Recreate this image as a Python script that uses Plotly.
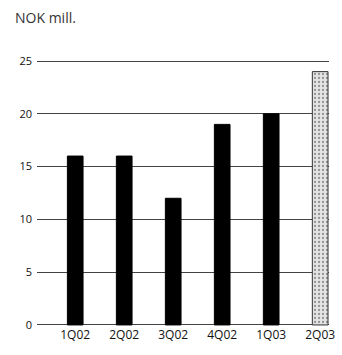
import plotly.graph_objects as go

# Quarterly result, NOK million
quarters = ["1Q02", "2Q02", "3Q02", "4Q02", "1Q03", "2Q03"]
values = [16, 16, 12, 19, 20, 24]
y_ticks = [0, 5, 10, 15, 20, 25]

# Past quarters in solid black, latest quarter shaded
fill_colors = ["#000000"] * 5 + ["#e4e4e4"]
line_colors = ["#000000"] * 5 + ["#333333"]
pattern_shapes = [""] * 5 + ["."]

fig = go.Figure(
    go.Bar(
        x=list(range(len(quarters))),
        y=values,
        width=0.32,
        marker=dict(
            color=fill_colors,
            line=dict(color=line_colors, width=1),
            pattern=dict(shape=pattern_shapes, fgcolor="#888888",
                         bgcolor="#f2f2f2", size=4, solidity=0.25),
        ),
        showlegend=False,
    )
)

fig.update_layout(
    width=342,
    height=355,
    margin=dict(l=37, r=7, t=60, b=29),
    paper_bgcolor="white",
    plot_bgcolor="white",
    font=dict(family="Open Sans, Liberation Sans, sans-serif", size=11, color="#111111"),
    annotations=[
        dict(text="NOK mill.", x=-24 / 298, y=1 + 43 / 266,
             xref="paper", yref="paper",
             showarrow=False, xanchor="left", yanchor="middle",
             font=dict(size=14, color="#333333")),
    ],
)

fig.update_xaxes(
    range=[-0.78, 5.18],
    tickmode="array",
    tickvals=list(range(len(quarters))),
    ticktext=quarters,
    showgrid=False,
    zeroline=False,
    showline=False,
    ticks="",
    tickfont=dict(size=12, color="#111111"),
)
fig.update_yaxes(
    range=[-0.1, 25.1],
    tickmode="array",
    tickvals=y_ticks,
    showgrid=True,
    gridcolor="#444444",
    gridwidth=1,
    zeroline=False,
    showline=False,
    ticks="",
    ticklabelstandoff=4,
    tickfont=dict(size=11, color="#111111"),
)

fig.write_html("out.html")
